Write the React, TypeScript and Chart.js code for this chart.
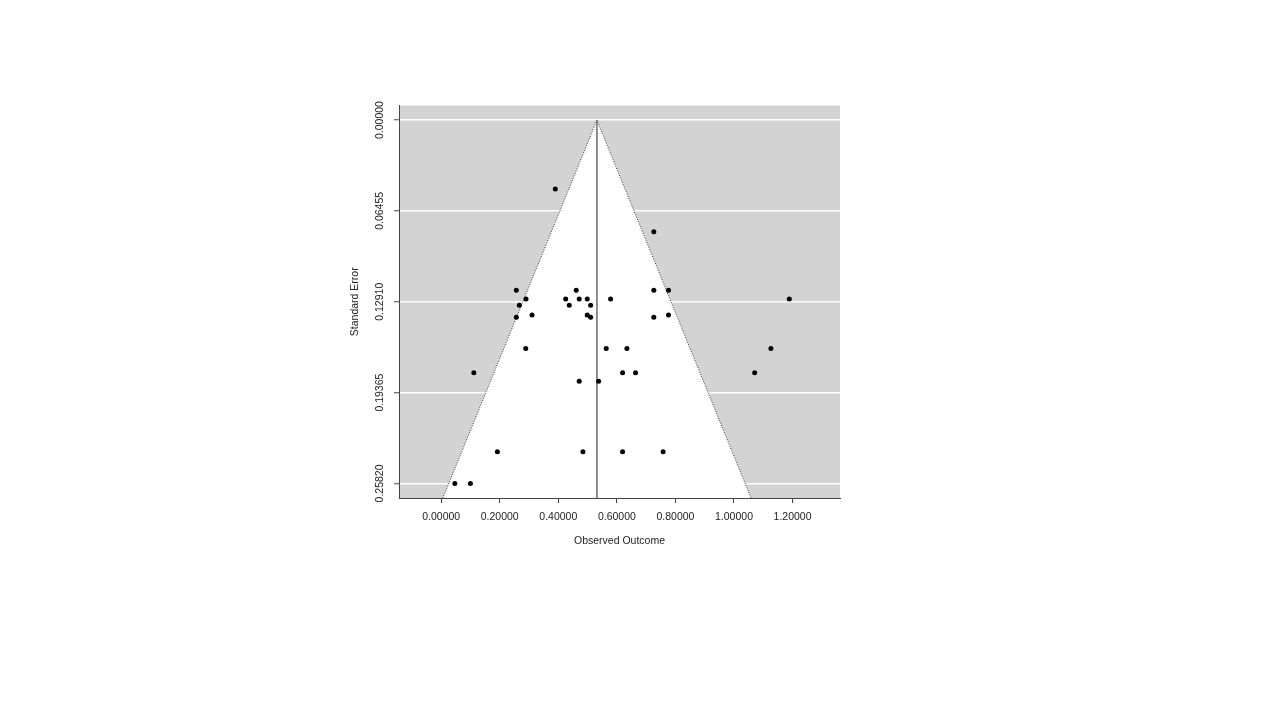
import React, { useEffect, useRef } from "react";
import { Chart, registerables } from "chart.js";

Chart.register(...registerables);

// Observed outcomes (x) and their standard errors (y)
const observedOutcome = [
  0.3897, 0.7262, 0.2567, 0.4613, 0.7262, 0.7763, 0.2898, 0.4252, 0.4715, 0.4988,
  0.5786, 1.1889, 0.267, 0.4374, 0.5104, 0.3103, 0.4988, 0.7763, 0.2567, 0.5104,
  0.7262, 0.2888, 0.5636, 0.6342, 1.1261, 0.1115, 0.6195, 0.6638, 1.0706, 0.4715,
  0.5377, 0.192, 0.4841, 0.6195, 0.7579, 0.0467, 0.0999,
];
const standardError = [
  0.049, 0.0794, 0.121, 0.121, 0.121, 0.121, 0.1272, 0.1272, 0.1272, 0.1272,
  0.1272, 0.1272, 0.1315, 0.1315, 0.1315, 0.1386, 0.1386, 0.1386, 0.1402, 0.1402,
  0.1402, 0.1623, 0.1623, 0.1623, 0.1623, 0.1796, 0.1796, 0.1796, 0.1796, 0.1855,
  0.1855, 0.2357, 0.2357, 0.2357, 0.2357, 0.2582, 0.2582,
];
const pooledEstimate = 0.532;
const seTicks = [0, 0.06455, 0.1291, 0.19365, 0.2582];
const xTicks = [0, 0.2, 0.4, 0.6, 0.8, 1.0, 1.2];
const xRange = [-0.144, 1.362];
const seRange = [-0.01033, 0.26853];

const FONT = { family: "'Liberation Sans', Arial, sans-serif", size: 10.5 };

const grayBackground = {
  id: "grayBackground",
  beforeDraw(chart: any) {
    const { ctx, chartArea } = chart;
    ctx.save();
    ctx.fillStyle = "#d3d3d3";
    ctx.fillRect(chartArea.left, chartArea.top, chartArea.right - chartArea.left, chartArea.bottom - chartArea.top);
    ctx.restore();
  },
};

export default function App() {
  const ref = useRef<HTMLCanvasElement>(null);
  useEffect(() => {
    if (!ref.current) return;
    const seMax = seRange[1];
    const funnel = [
      { x: pooledEstimate - 1.96 * seMax, y: seMax },
      { x: pooledEstimate, y: 0 },
      { x: pooledEstimate + 1.96 * seMax, y: seMax },
    ];
    const centerLine = [
      { x: pooledEstimate, y: 0 },
      { x: pooledEstimate, y: seMax },
    ];
    const points = observedOutcome.map((x, i) => ({ x, y: standardError[i] }));
    const chart = new Chart(ref.current, {
      type: "scatter",
      data: {
        datasets: [
          {
            data: points,
            order: 0,
            pointRadius: 2.5,
            pointBackgroundColor: "#000",
            pointBorderWidth: 0,
            showLine: false,
          },
          {
            data: centerLine,
            order: 1,
            showLine: true,
            borderColor: "#6a6a6a",
            borderWidth: 1.5,
            pointRadius: 0,
            fill: false,
          },
          {
            data: funnel,
            order: 2,
            showLine: true,
            borderColor: "#333",
            borderWidth: 1,
            borderDash: [1, 1.5],
            pointRadius: 0,
            fill: "start",
            backgroundColor: "#ffffff",
            tension: 0,
          },
        ],
      },
      options: {
        responsive: false,
        animation: false,
        layout: { padding: { left: 300, right: 440, top: 105.5, bottom: 162 } },
        plugins: { legend: { display: false }, tooltip: { enabled: false } },
        scales: {
          x: {
            type: "linear",
            position: "bottom",
            min: xRange[0],
            max: xRange[1],
            z: 1,
            afterBuildTicks: (s: any) => {
              s.ticks = xTicks.map((v) => ({ value: v }));
            },
            afterFit: (s: any) => {
              s.height = 60;
            },
            grid: {
              display: true,
              drawOnChartArea: false,
              drawTicks: true,
              tickLength: 5,
              tickColor: "#444",
              tickWidth: 1,
            },
            border: { display: true, color: "#444", width: 1 },
            ticks: {
              font: FONT,
              color: "#222",
              padding: 8,
              maxRotation: 0,
              autoSkip: false,
              callback: (v: any) => Number(v).toFixed(5),
            },
            title: {
              display: true,
              text: "Observed Outcome",
              font: FONT,
              color: "#222",
              padding: { top: 0, bottom: 10.7 },
            },
          },
          y: {
            type: "linear",
            position: "left",
            reverse: true,
            min: seRange[0],
            max: seRange[1],
            afterBuildTicks: (s: any) => {
              s.ticks = seTicks.map((v) => ({ value: v }));
            },
            afterFit: (s: any) => {
              s.width = 99;
            },
            grid: {
              display: true,
              drawOnChartArea: true,
              color: "#ffffff",
              lineWidth: 1.5,
              drawTicks: true,
              tickLength: 5,
              tickColor: "#444",
              tickWidth: 1,
            },
            border: { display: true, color: "#444", width: 1 },
            ticks: {
              font: FONT,
              color: "#222",
              padding: -5,
              minRotation: 90,
              maxRotation: 90,
              crossAlign: "center",
              autoSkip: false,
              callback: (v: any) => Number(v).toFixed(5),
            },
            title: {
              display: true,
              text: "Standard Error",
              font: FONT,
              color: "#222",
              padding: { top: 48.7, bottom: 0 },
            },
          },
        },
      },
      plugins: [grayBackground],
    } as any);
    return () => chart.destroy();
  }, []);
  return (
    <div style={{ position: "absolute", left: 0, top: 0, width: 1280, height: 720 }}>
      <canvas ref={ref} width={1280} height={720} style={{ display: "block" }} />
    </div>
  );
}
